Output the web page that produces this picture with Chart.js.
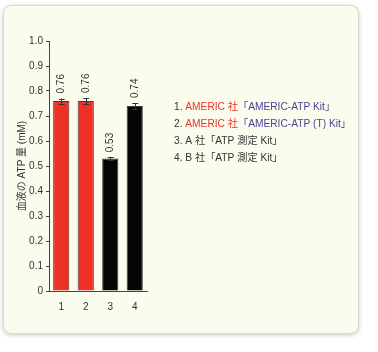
<!DOCTYPE html>
<html>
<head>
<meta charset="utf-8">
<script src="https://cdn.jsdelivr.net/npm/chart.js@4"></script>
<style>
  html, body { margin: 0; padding: 0; background: #fff; }
  #wrap { width: 378px; height: 352px; position: relative; }
</style>
</head>
<body>
<div id="wrap"><canvas id="canva" width="378" height="352"></canvas></div>
<script>
const categories = ["1", "2", "3", "4"];
const atpValues = [0.76, 0.76, 0.53, 0.74];
const atpErrors = [0.01, 0.012, 0.005, 0.012];
const barColors = ["#ee3124", "#ee3124", "#050505", "#050505"];
const yTicks = [0, 0.1, 0.2, 0.3, 0.4, 0.5, 0.6, 0.7, 0.8, 0.9, 1.0];

// legend lines: [text, color] pieces
const legendLines = [
  [["1. ", "#333"], ["AMERIC 社", "#ee3124"], ["「AMERIC-ATP Kit」", "#4b3f95"]],
  [["2. ", "#333"], ["AMERIC 社", "#ee3124"], ["「AMERIC-ATP (T) Kit」", "#4b3f95"]],
  [["3. A 社「ATP 測定 Kit」", "#333"]],
  [["4. B 社「ATP 測定 Kit」", "#333"]],
];

const FONT = "'Liberation Sans', 'Noto Sans CJK JP', sans-serif";
Chart.defaults.font.family = FONT;

const cardPlugin = {
  id: "card",
  beforeDraw(chart) {
    const c = chart.ctx;
    c.save();
    c.shadowColor = "rgba(0,0,0,0.25)";
    c.shadowBlur = 5;
    c.shadowOffsetY = 1;
    c.fillStyle = "#fcfcee";
    c.beginPath();
    c.roundRect(3.5, 5.5, 355, 328, 8);
    c.fill();
    c.shadowColor = "transparent";
    c.strokeStyle = "#d8d8cc";
    c.lineWidth = 1;
    c.stroke();
    c.restore();
  },
};

const extrasPlugin = {
  id: "extras",
  afterDatasetsDraw(chart) {
    const c = chart.ctx;
    const y = chart.scales.y;
    const meta = chart.getDatasetMeta(0);
    c.save();
    meta.data.forEach((bar, i) => {
      const v = atpValues[i];
      const e = atpErrors[i];
      const yt = y.getPixelForValue(v + e);
      const yb = y.getPixelForValue(v - e);
      c.strokeStyle = "#333";
      c.lineWidth = 1;
      c.beginPath();
      c.moveTo(Math.round(bar.x) + 0.5, yt);
      c.lineTo(Math.round(bar.x) + 0.5, yb);
      c.moveTo(bar.x - 2.5, Math.round(yt) + 0.5);
      c.lineTo(bar.x + 3.5, Math.round(yt) + 0.5);
      c.moveTo(bar.x - 2.5, Math.round(yb) + 0.5);
      c.lineTo(bar.x + 3.5, Math.round(yb) + 0.5);
      c.stroke();

      c.save();
      c.translate(bar.x, yt - 5);
      c.rotate(-Math.PI / 2);
      c.fillStyle = "#333";
      c.font = "10px " + FONT;
      c.textAlign = "left";
      c.textBaseline = "middle";
      c.fillText(v.toFixed(2), 0, 0);
      c.restore();
    });

    c.font = "10.2px " + FONT;
    c.textBaseline = "middle";
    c.textAlign = "left";
    legendLines.forEach((parts, i) => {
      let x = 174;
      const ly = 107 + i * 17;
      parts.forEach(([txt, col]) => {
        c.fillStyle = col;
        c.fillText(txt, x, ly);
        x += c.measureText(txt).width;
      });
    });
    c.restore();
  },
};

const canvas = document.getElementById("canva");
const ctx = canvas.getContext("2d");

let myChart = new Chart(ctx, {
  type: "bar",
  data: {
    labels: categories,
    datasets: [
      {
        data: atpValues,
        backgroundColor: barColors,
        borderColor: "#3a3a3a",
        borderWidth: 1,
        categoryPercentage: 0.66,
        barPercentage: 1,
      },
    ],
  },
  options: {
    responsive: false,
    animation: false,
    layout: { padding: { left: 16, top: 41, right: 231, bottom: 31 } },
    plugins: {
      legend: { display: false },
      tooltip: { enabled: false },
    },
    scales: {
      x: {
        grid: { display: false },
        border: { color: "#444", width: 1 },
        ticks: { color: "#333", font: { size: 10 }, padding: 2 },
        afterFit: (s) => { s.height = 30; },
      },
      y: {
        min: 0,
        max: 1,
        afterBuildTicks: (s) => { s.ticks = yTicks.map((v) => ({ value: v })); },
        ticks: {
          color: "#333",
          font: { size: 10 },
          padding: 3,
          callback: (v) => (v === 0 ? "0" : v.toFixed(1)),
        },
        grid: { drawOnChartArea: false, tickLength: 3, color: "#444" },
        border: { color: "#444", width: 1 },
        title: {
          display: true,
          text: "血液の ATP 量 (mM)",
          color: "#333",
          font: { size: 10 },
          padding: 0,
        },
        afterFit: (s) => { s.width = 33; },
      },
    },
  },
  plugins: [cardPlugin, extrasPlugin],
});
</script>
</body>
</html>
